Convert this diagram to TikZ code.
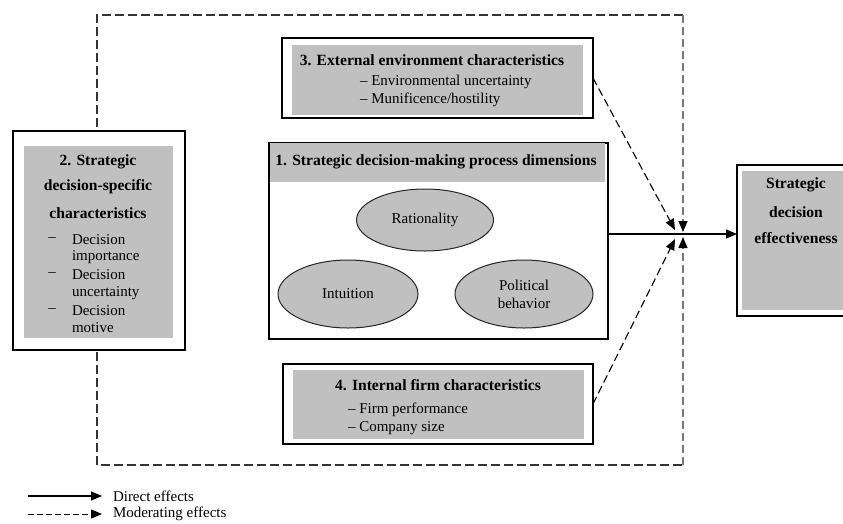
\documentclass[tikz,border=0pt]{standalone}
\usepackage{fontspec}
\setmainfont{Liberation Serif}
\usetikzlibrary{arrows.meta,shapes.geometric}
\definecolor{boxgray}{RGB}{192,192,192}
\definecolor{framegray}{RGB}{120,120,120}

\begin{document}
\begin{tikzpicture}[x=1pt,y=-1pt,
  every node/.style={font=\fontsize{15}{18}\selectfont, inner sep=0pt, outer sep=0pt},
  outerbox/.style={draw=black, line width=1.8pt, fill=white, rectangle},
  graybox/.style={fill=boxgray, rectangle},
  oval/.style={ellipse, draw=black!85, line width=1pt, fill=boxgray, align=center},
  head/.style={font=\fontsize{15.6}{18}\selectfont\bfseries},
  tip/.style={-{Triangle[length=11pt,width=9pt,color=black]}},
  direct/.style={line width=1.1pt, tip},
  moder/.style={line width=1.1pt, dash pattern=on 8pt off 4pt, tip},
]
\useasboundingbox (0,0) rectangle (843,523);

% junction points on the direct path
\coordinate (jm) at (650,234);
\coordinate (jd1) at (675,230);
\coordinate (jd2) at (675,239);
\coordinate (jv1) at (683,232);
\coordinate (jv2) at (683,237);

% moderating frame
\coordinate (fTR) at (683,15);
\coordinate (fTL) at (97,15);
\coordinate (fBL) at (97,465);
\coordinate (fBR) at (683,465);
\draw[line width=1.1pt, dash pattern=on 9pt off 4pt, black!80]
  (fTR) -- (fTL) -- (fBL) -- (fBR);
\draw[moder, framegray] (fTR) -- (jv1);
\draw[moder, framegray] (fBR) -- (jv2);

% 2. decision-specific characteristics
\node[outerbox, minimum width=172pt, minimum height=219pt] (b2) at (99,240.5) {};
\node[graybox, minimum width=149pt, minimum height=192pt] (b2g) at (98.5,242) {};
\node[head] (b2h1) at (98,162) {2. Strategic};
\node[head] (b2h2) at (98,187) {decision-specific};
\node[head] (b2h3) at (98,213) {characteristics};
\foreach \y/\t [count=\i] in {240/Decision,257/importance,275/Decision,293/uncertainty,311/Decision,328/motive}{
  \node[anchor=west] (b2t\i) at (72,\y) {\t};
}
\foreach \y [count=\i] in {240,275,311}{
  \node (b2d\i) at (52,\y) {--};
}

% 3. external environment characteristics
\node[outerbox, minimum width=311pt, minimum height=80pt] (b3) at (437.5,78) {};
\node[graybox, minimum width=291pt, minimum height=70pt] (b3g) at (437.5,80) {};
\node[head] (b3h) at (432,60) {3. External environment characteristics};
\node[anchor=west] (b3a) at (360,82) {-- Environmental uncertainty};
\node[anchor=west] (b3b) at (360,100) {-- Munificence/hostility};

% 1. process dimensions
\node[outerbox, minimum width=339pt, minimum height=196pt] (b1) at (438.5,241) {};
\node[graybox, minimum width=335pt, minimum height=39pt] (b1g) at (437.5,162.5) {};
\node[head] (b1h) at (436,162) {1. Strategic decision-making process dimensions};
\node[oval, minimum width=137pt, minimum height=62pt] (rat) at (425,220) {Rationality};
\node[oval, minimum width=140pt, minimum height=68pt] (int) at (348,294) {Intuition};
\node[oval, minimum width=138pt, minimum height=68pt] (pol) at (524,294) {Political\\behavior};

% 4. internal firm characteristics
\node[outerbox, minimum width=310pt, minimum height=80pt] (b4) at (438,404) {};
\node[graybox, minimum width=291pt, minimum height=69pt] (b4g) at (438.5,404.5) {};
\node[head] (b4h) at (438,385) {4. Internal firm characteristics};
\node[anchor=west] (b4a) at (348,410) {-- Firm performance};
\node[anchor=west] (b4b) at (348,428) {-- Company size};

% outcome
\node[outerbox, minimum width=109pt, minimum height=151pt] (sde) at (791.5,240.5) {};
\node[graybox, minimum width=104pt, minimum height=139pt] (sdeg) at (794,240.5) {};
\node[head] (sde1) at (796,185) {Strategic};
\node[head] (sde2) at (796,212) {decision};
\node[head] (sde3) at (796,238) {effectiveness};

% effects
\draw[direct] (b1.east |- jm) -- (sde.west |- jm);
\draw[moder] (b3.east) -- (jd1);
\draw[moder] (b4.east) -- (jd2);

% legend
\node[anchor=west] (lg1) at (113,496) {Direct effects};
\node[anchor=west] (lg2) at (113,514) {Moderating effects};
\coordinate (lg1s) at (28,496);
\coordinate (lg2s) at (28,514);
\draw[direct] (lg1s) -- ([xshift=-11pt]lg1.west);
\draw[line width=1pt, dash pattern=on 6pt off 3pt, tip] (lg2s) -- ([xshift=-11pt]lg2.west);
\end{tikzpicture}
\end{document}
